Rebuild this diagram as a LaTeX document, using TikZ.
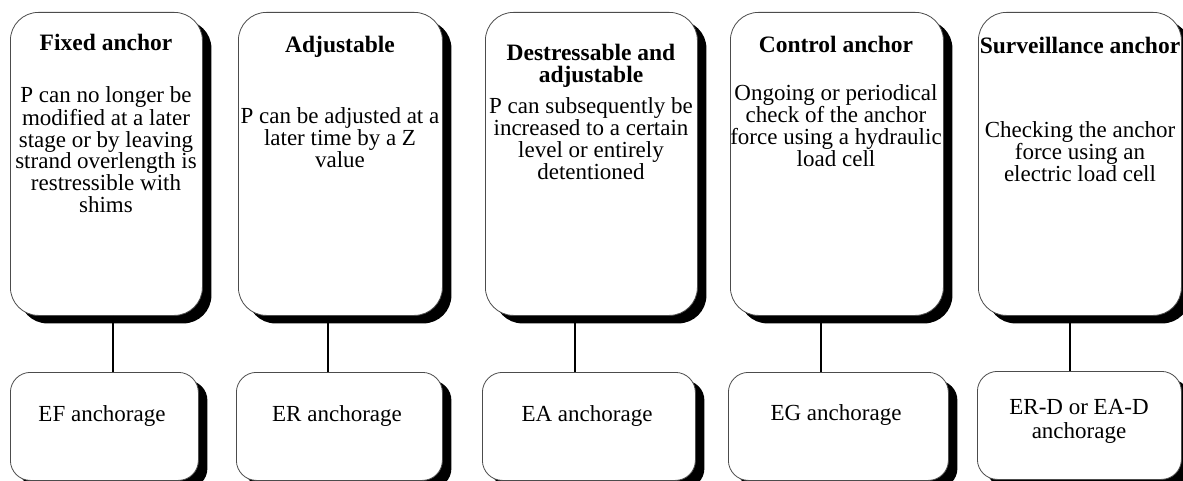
\documentclass[tikz,border=0pt]{standalone}
\usepackage{fontspec}
\setmainfont{Liberation Serif}
\usetikzlibrary{shadows}
\begin{document}
\begin{tikzpicture}[x=1pt,y=-1pt,
  boxshadow/.style={drop shadow={shadow xshift=9pt,shadow yshift=-8pt,fill=black,opacity=1}},
  tallbox/.style={draw=black!70,line width=0.8pt,fill=white,rounded corners=28pt,boxshadow,anchor=north west,minimum height=303pt,inner sep=0pt},
  lowbox/.style={draw=black!70,line width=0.8pt,fill=white,rounded corners=20pt,boxshadow,anchor=north west,minimum height=108pt,inner sep=0pt},
  ttl/.style={font=\bfseries\fontsize{23.5}{22}\selectfont,align=center,inner sep=0pt,anchor=base},
  txt/.style={font=\fontsize{23}{22}\selectfont,align=center,inner sep=0pt,anchor=base},
  link/.style={line width=1.6pt,black}]
\useasboundingbox (0,0) rectangle (1183,481);
% upper boxes
\node[tallbox,minimum width=192pt] (B1) at (10,12) {};
\node[tallbox,minimum width=204pt] (B2) at (238,12) {};
\node[tallbox,minimum width=212pt] (B3) at (485,12) {};
\node[tallbox,minimum width=213pt] (B4) at (730,12) {};
\node[tallbox,minimum width=203pt] (B5) at (978,12) {};
% lower boxes
\node[lowbox,minimum width=188pt] (L1) at (10,372) {};
\node[lowbox,minimum width=206pt] (L2) at (236,372) {};
\node[lowbox,minimum width=213pt] (L3) at (482,372) {};
\node[lowbox,minimum width=220pt] (L4) at (728,372) {};
\node[lowbox,minimum width=204pt] (L5) at (977,371) {};
% titles (anchor = baseline of last line)
\node[ttl] (T1) at (106,51) {Fixed anchor};
\node[ttl] (T2) at (340,53) {Adjustable};
\node[ttl] (T3) at (591,83) {Destressable and\\adjustable};
\node[ttl] (T4) at (836,53) {Control anchor};
\node[ttl] (T5) at (1080,54) {Surveillance anchor};
% descriptions (anchor = baseline of last line)
\node[txt] (D1) at (106,213) {P can no longer be\\modified at a later\\stage or by leaving\\strand overlength is\\restressible with\\shims};
\node[txt] (D2) at (340,168) {P can be adjusted at a\\later time by a Z\\value};
\node[txt] (D3) at (591,180) {P can subsequently be\\increased to a certain\\level or entirely\\detentioned};
\node[txt] (D4) at (836,167) {Ongoing or periodical\\check of the anchor\\force using a hydraulic\\load cell};
\node[txt] (D5) at (1080,182) {Checking the anchor\\force using an\\electric load cell};
% lower texts
\node[txt] (E1) at (102,421) {EF anchorage};
\node[txt] (E2) at (337,421) {ER anchorage};
\node[txt] (E3) at (587,421) {EA anchorage};
\node[txt] (E4) at (836,420) {EG anchorage};
\node[txt] (E5) at (1079,438) {ER-D or EA-D\\[2pt]anchorage};
% connectors
\coordinate (k1) at (113,0);
\coordinate (k2) at (328,0);
\coordinate (k3) at (575,0);
\coordinate (k4) at (821,0);
\coordinate (k5) at (1070,0);
\draw[link] (k1 |- B1.south) -- (k1 |- L1.north);
\draw[link] (k2 |- B2.south) -- (k2 |- L2.north);
\draw[link] (k3 |- B3.south) -- (k3 |- L3.north);
\draw[link] (k4 |- B4.south) -- (k4 |- L4.north);
\draw[link] (k5 |- B5.south) -- (k5 |- L5.north);
\end{tikzpicture}
\end{document}
